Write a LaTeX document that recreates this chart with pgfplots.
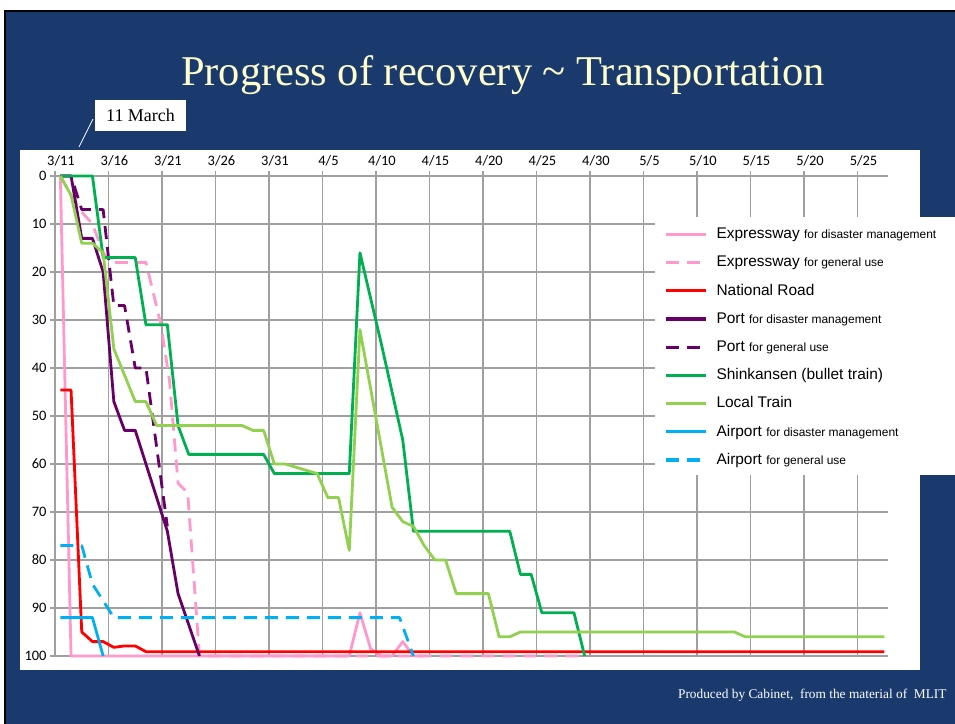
\documentclass[border=0pt]{standalone}
\usepackage{pgfplots}
\pgfplotsset{compat=1.18}
\usepackage{fontspec}
\setmainfont{Liberation Serif}
\newfontfamily\arial{Liberation Sans}
\newfontfamily\calibri{Carlito}
\definecolor{navy}{HTML}{1A3A6E}
\definecolor{titleyellow}{HTML}{FFFFCC}
\definecolor{gridgray}{HTML}{A0A0A0}
\definecolor{cpink}{HTML}{FF99CC}
\definecolor{cred}{HTML}{FF0000}
\definecolor{cpurple}{HTML}{660066}
\definecolor{cdgreen}{HTML}{00B050}
\definecolor{clgreen}{HTML}{92D050}
\definecolor{cblue}{HTML}{00B0F0}
\tikzset{ddash/.style={dash pattern=on 13bp off 8bp}}
\begin{document}
\begin{tikzpicture}[x=1bp,y=1bp]
\useasboundingbox (0,0) rectangle (955,724);
\fill[white] (0,0) rectangle (955,724);
\fill[black] (4,0) rectangle (955,714);
\fill[navy] (6,0) rectangle (955,712);
\fill[white] (20,54) rectangle (920,574);
\node[anchor=base, text=titleyellow, font=\fontsize{42.6}{48}\selectfont] at (503,638) {Progress of recovery \textasciitilde{} Transportation};
\draw[white, line width=0.8bp] (93,605) -- (79,577);
\node[fill=white, minimum width=91bp, minimum height=31bp, inner sep=0pt, font=\fontsize{18}{20}\selectfont] at (140.5,608.5) {11 March};
\node[anchor=base east, text=white, font=\fontsize{13.4}{15}\selectfont] at (950,25) {Produced by Cabinet,\ \ from the material of\ \ MLIT};
\begin{axis}[
  at={(55bp,68bp)}, anchor=south west,
  width=833bp, height=480bp, scale only axis,
  xmin=0, xmax=77.85, ymin=0, ymax=100, y dir=reverse,
  clip=false,
  axis line style={draw=none},
  grid=major, major grid style={color=gridgray, line width=1.3bp},
  xtick={0,5,...,75},
  xticklabels={3/11,3/16,3/21,3/26,3/31,4/5,4/10,4/15,4/20,4/25,4/30,5/5,5/10,5/15,5/20,5/25},
  ytick={0,10,...,100},
  tick style={color=gridgray, line width=1.3bp},
  tick align=outside, major tick length=5bp,
  xtick pos=right, ytick pos=left, xticklabel pos=right,
  /pgf/number format/assume math mode=true,
  ticklabel style={font=\calibri\fontsize{14.5}{16}\selectfont, text=black},
  xticklabel style={xshift=6bp, yshift=1.5bp},
  legend cell align=left,
  legend image code/.code={\draw[#1, line width=3.3bp] (0bp,0.3bp) -- (40bp,0.3bp);},
  legend style={at={(axis description cs:0.7317,0.898)}, anchor=north west,
    draw=none, fill=none, inner sep=0pt, row sep=9.2bp,
    font=\arial\fontsize{15.5}{18}\selectfont,
    nodes={inner sep=1.5bp, text height=12bp, text depth=4bp},
    /tikz/every odd column/.append style={column sep=7bp}},
  every axis plot/.append style={line width=2.8bp, line join=round},
]
\fill[white] (axis cs:56.07,8.54) rectangle (axis cs:84.12,62.3);
% Expressway for disaster management
\addplot[cpink] coordinates {(0.5,0) (1.5,100) (27.5,100) (28.5,91) (29.5,98.5) (30.5,100) (31.5,100) (32.5,97) (33.5,100) (34.5,100)};
\addlegendentry{Expressway {\fontsize{12}{14}\selectfont for disaster management}}
% Expressway for general use
\addplot[cpink, ddash] coordinates {(0.5,0) (1.5,4) (2.5,7.5) (3.5,10) (4.5,16) (5.2,18) (8.5,18) (9.9,31) (10.7,42.6) (11.5,64) (12.4,66) (13.5,100) (49.5,100)};
\addlegendentry{Expressway {\fontsize{12}{14}\selectfont for general use}}
% National Road
\addplot[cred] coordinates {(0.5,44.6) (1.5,44.6) (2.5,95) (3.5,97) (4.5,97) (5.5,98.2) (6.5,97.9) (7.5,97.9) (8.5,99.1) (77.5,99.1)};
\addlegendentry{National Road}
% Port for disaster management
\addplot[cpurple] coordinates {(0.5,0) (1.5,0) (2.5,13) (3.5,13) (4.5,20) (5.5,47) (6.5,53) (7.5,53) (10.5,74) (11.5,87) (13.5,100)};
\addlegendentry{Port {\fontsize{12}{14}\selectfont for disaster management}}
% Port for general use
\addplot[cpurple, ddash] coordinates {(0.5,0) (1.5,0) (2.5,7) (4.5,7) (5.5,27) (6.5,27) (7.5,40) (8.5,40) (10.5,73)};
\addlegendentry{Port {\fontsize{12}{14}\selectfont for general use}}
% Shinkansen
\addplot[cdgreen] coordinates {(0.5,0) (3.5,0) (4.5,17) (7.5,17) (8.5,31) (10.5,31) (11.5,52) (12.5,58) (19.5,58) (20.5,62) (27.5,62) (28.5,16) (30.5,35) (31.5,45) (32.5,55) (33.5,74) (42.5,74) (43.5,83) (44.5,83) (45.5,91) (48.5,91) (49.5,100)};
\addlegendentry{Shinkansen (bullet train)}
% Local Train
\addplot[clgreen] coordinates {(0.5,0) (1.5,4) (2.5,14) (3.5,14) (4.5,16) (5.5,36) (7.5,47) (8.5,47) (9.5,52) (17.5,52) (18.5,53) (19.5,53) (20.5,60) (21.5,60) (24.5,62) (25.5,67) (26.5,67) (27.5,78) (28.5,32) (31.5,69) (32.5,72) (33.5,73) (34.5,77) (35.5,80) (36.5,80) (37.5,87) (40.5,87) (41.5,96) (42.5,96) (43.5,95) (63.5,95) (64.5,96) (77.5,96)};
\addlegendentry{Local Train}
% Airport for disaster management
\addplot[cblue] coordinates {(0.5,92) (3.5,92) (4.5,100)};
\addlegendentry{Airport {\fontsize{12}{14}\selectfont for disaster management}}
% Airport for general use
\addplot[cblue, ddash] coordinates {(0.5,77) (2.5,77) (3.5,85) (5.5,92) (32.2,92) (33.5,100)};
\addlegendentry{Airport {\fontsize{12}{14}\selectfont for general use}}
\end{axis}
\end{tikzpicture}
\end{document}
